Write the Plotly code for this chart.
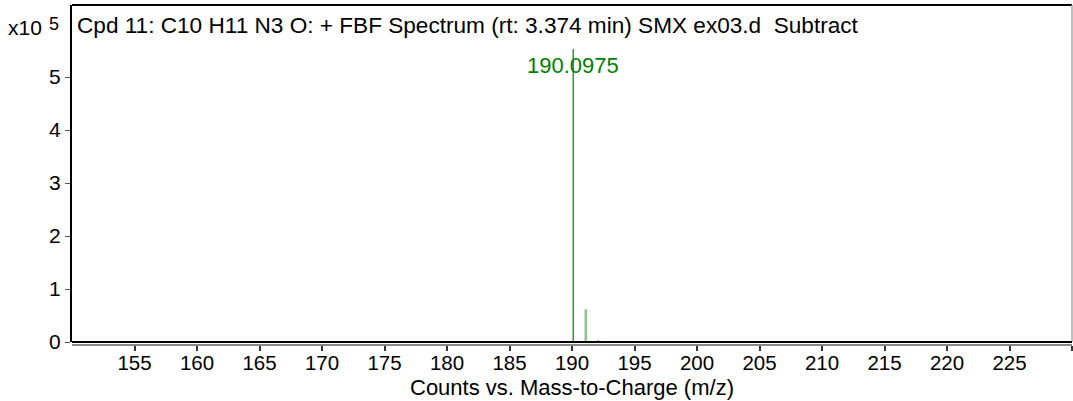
import plotly.graph_objects as go

# Data
mz = [190.0975, 191.1008, 192.1030]
counts = [5.53e5, 0.617e5, 0.03e5]
peak_colors = ["#008000", "rgba(0,128,0,0.45)", "#008000"]
peak_widths = [1.2, 2.5, 1.5]
label_mz = 190.0975
label_text = "190.0975"
xtick_vals = list(range(155, 231, 5))
xtick_text = [str(v) if v <= 225 else "" for v in xtick_vals]
ytick_vals = [0, 1e5, 2e5, 3e5, 4e5, 5e5]
ytick_text = ["0", "1", "2", "3", "4", "5"]
title = "Cpd 11: C10 H11 N3 O: + FBF Spectrum (rt: 3.374 min) SMX ex03.d  Subtract"
xtitle = "Counts vs. Mass-to-Charge (m/z)"

FONT = "Liberation Sans, Arial, sans-serif"

fig = go.Figure()
for x, y, c, w in zip(mz, counts, peak_colors, peak_widths):
    fig.add_trace(go.Scatter(x=[x, x], y=[0, y], mode="lines",
                             line=dict(color=c, width=w), showlegend=False,
                             hoverinfo="skip"))

fig.add_annotation(x=label_mz, y=5.22e5, xref="x", yref="y", text=label_text,
                   showarrow=False, font=dict(color="#008000", size=22, family=FONT),
                   xanchor="center", yanchor="middle")

# title in plot
fig.add_annotation(x=0, y=0.94, xref="paper", yref="paper", text=title,
                   showarrow=False, xanchor="left", yanchor="middle", xshift=3,
                   font=dict(color="black", size=22.6, family=FONT))
# exponent
fig.add_annotation(x=0, y=0.935, xref="paper", yref="paper", text="x10",
                   showarrow=False, xanchor="right", yanchor="middle", xshift=-28,
                   font=dict(color="black", size=21, family=FONT))
fig.add_annotation(x=0, y=0.945, xref="paper", yref="paper", text="5",
                   showarrow=False, xanchor="right", yanchor="middle", xshift=-11,
                   font=dict(color="black", size=18, family=FONT))
# x-axis title
fig.add_annotation(x=0.5, y=-42 / 340, xref="paper", yref="paper", text=xtitle,
                   showarrow=False, xanchor="center", yanchor="middle",
                   font=dict(color="black", size=22, family=FONT))

ydom0 = 3 / 340
# frame: top, right, bottom
fig.add_shape(type="line", xref="paper", yref="paper", x0=0, x1=1, y0=1, y1=1,
              line=dict(color="black", width=2))
fig.add_shape(type="line", xref="paper", yref="paper", x0=1, x1=1, y0=ydom0, y1=1,
              line=dict(color="#aaaaaa", width=1.5))
fig.add_shape(type="line", xref="paper", yref="paper", x0=0, x1=1, y0=ydom0, y1=ydom0,
              line=dict(color="black", width=2))

fig.update_layout(
    width=1073, height=401,
    margin=dict(l=72, r=1, t=5, b=56),
    paper_bgcolor="white", plot_bgcolor="white",
    font=dict(family=FONT, color="black"),
    xaxis=dict(range=[150, 230], tickvals=xtick_vals, ticktext=xtick_text,
               ticks="outside", ticklen=5, tickcolor="#333333", tickwidth=1.5,
               showline=True, linecolor="#888888", linewidth=1.5,
               showgrid=False, zeroline=False, anchor="free", position=0,
               ticklabelstandoff=-5,
               tickfont=dict(size=20.5, family=FONT)),
    yaxis=dict(range=[0, 6.36e5], domain=[ydom0, 1], tickvals=ytick_vals,
               ticktext=ytick_text, ticks="outside", ticklen=5, tickcolor="#555555",
               showline=True, linecolor="black", linewidth=2, showgrid=False,
               zeroline=False, tickfont=dict(size=21, family=FONT)),
)

fig.write_html("out.html")
